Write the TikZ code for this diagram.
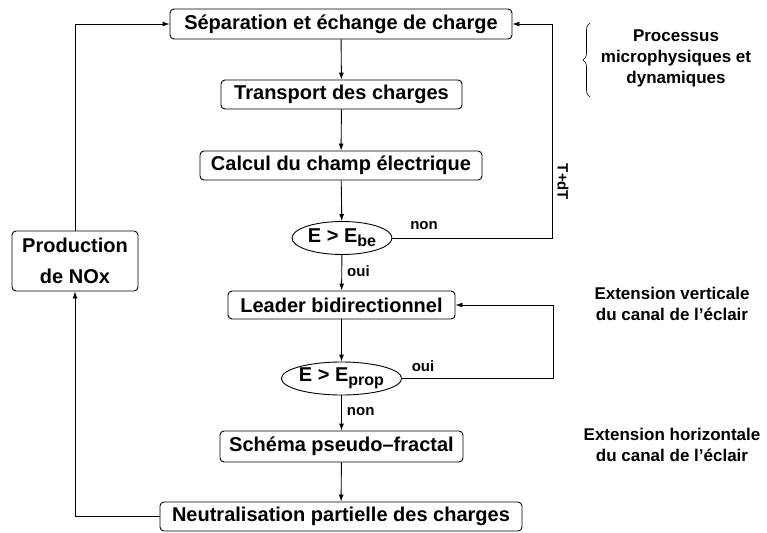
\documentclass[tikz,border=0pt]{standalone}
\usepackage{fontspec}
\setmainfont{Liberation Sans}
\usetikzlibrary{shapes.geometric,arrows.meta,decorations.pathreplacing}
\newcommand{\subx}[1]{\raisebox{-0.4ex}{\fontsize{16}{16}\selectfont #1}}
\begin{document}
\begin{tikzpicture}[x=1pt,y=-1pt,
  box/.style={draw,rounded corners=4pt,line width=0.9pt,inner sep=0pt,font=\fontsize{20}{24}\selectfont\bfseries,align=center},
  oval/.style={draw,ellipse,line width=0.9pt,inner sep=0pt,font=\fontsize{20}{24}\selectfont\bfseries},
  lab/.style={font=\fontsize{15}{18}\selectfont\bfseries,inner sep=0pt},
  side/.style={font=\fontsize{17}{21}\selectfont\bfseries,align=center,inner sep=0pt},
  con/.style={line width=0.9pt,-{Latex[length=7pt,width=5pt]}},
  ln/.style={line width=0.9pt}]
\useasboundingbox (0,0) rectangle (767,532);
\node[box,minimum width=342pt,minimum height=30pt] (sep) at (341,24) {Séparation et échange de charge};
\node[box,minimum width=241pt,minimum height=29pt] (tra) at (341.5,94.5) {Transport des charges};
\node[box,minimum width=282pt,minimum height=29pt] (cal) at (341,165.5) {Calcul du champ électrique};
\node[oval,minimum width=100pt,minimum height=33pt] (ebe) at (342,238) {E > E\subx{be}};
\node[box,minimum width=227pt,minimum height=28pt] (lea) at (341.5,305) {Leader bidirectionnel};
\node[oval,minimum width=109pt,minimum height=33pt] (epr) at (341.5,378.5) {E > E\subx{prop}};
\node[box,minimum width=243pt,minimum height=31pt] (sch) at (341.5,446.5) {Schéma pseudo–fractal};
\node[box,minimum width=362pt,minimum height=29pt] (neu) at (341,516.5) {Neutralisation partielle des charges};
\node[box,minimum width=126pt,minimum height=60pt,font=\fontsize{20}{31}\selectfont\bfseries] (pro) at (75,261) {Production\\de NOx};

\draw[con] (sep) -- (tra);
\draw[con] (tra) -- (cal);
\draw[con] (cal) -- (ebe);
\draw[con] (ebe) -- node[lab,right=5pt,pos=0.45] (oui1) {oui} (lea);
\draw[con] (lea) -- (epr);
\draw[con] (epr) -- node[lab,right=5pt,pos=0.45] (non2) {non} (sch);
\draw[con] (sch) -- (neu);

\coordinate (r1) at (552,238);
\coordinate (r2) at (552,24);
\draw[con] (ebe.east) -- (r1) -- (r2) -- (sep.east);
\node[lab] (non1) at (424,226) {non};
\node[lab,rotate=-90] (tdt) at (563,182) {T+dT};

\coordinate (r3) at (553,378.5);
\coordinate (r4) at (553,305);
\draw[con] (epr.east) -- (r3) -- (r4) -- (lea.east);
\node[lab] (oui2) at (423,366) {oui};

\coordinate (l1) at (75,516.5);
\draw[con] (neu.west) -- (l1) -- (pro.south);
\coordinate (l2) at (75,24);
\draw[con] (pro.north) -- (l2) -- (sep.west);

\coordinate (b1) at (590,23);
\coordinate (b2) at (590,97);
\draw[decorate,decoration={brace,amplitude=7pt,mirror},line width=0.6pt] (b1) -- (b2);
\node[side] (proc) at (676,58) {Processus\\microphysiques et\\dynamiques};
\node[side] (ev) at (672,304) {Extension verticale\\du canal de l’éclair};
\node[side] (eh) at (672,445) {Extension horizontale\\du canal de l’éclair};
\end{tikzpicture}
\end{document}
